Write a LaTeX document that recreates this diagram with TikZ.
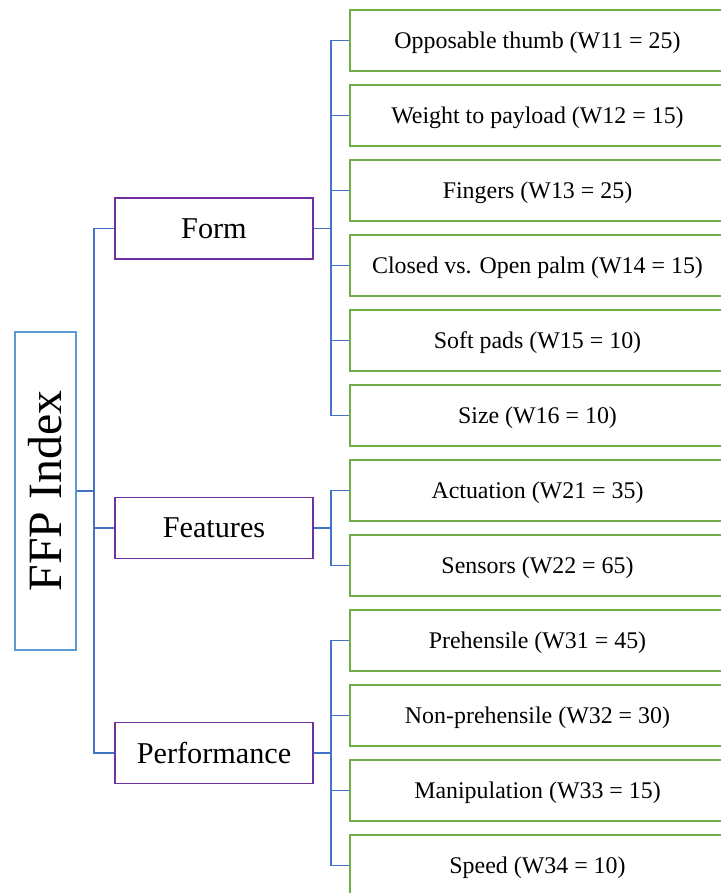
\documentclass[tikz,border=0pt]{standalone}
\usepackage{fontspec}
\setmainfont{Liberation Serif}
\definecolor{linkblue}{HTML}{4472C4}
\definecolor{rootblue}{HTML}{5B9BD5}
\definecolor{catpurple}{HTML}{7030A0}
\definecolor{leafgreen}{HTML}{70AD47}
\begin{document}
\begin{tikzpicture}[x=0.025cm,y=-0.025cm,
  rootbox/.style={draw=rootblue,line width=1pt,rotate=90,minimum width=7.95cm,minimum height=1.525cm,inner sep=0pt,font=\fontsize{34}{40}\selectfont},
  catbox/.style={draw=catpurple,line width=1pt,minimum width=4.95cm,minimum height=1.525cm,inner sep=0pt,font=\fontsize{21.5}{26}\selectfont},
  leafbox/.style={draw=leafgreen,line width=1.2pt,minimum width=9.375cm,minimum height=1.525cm,inner sep=0pt,text depth=0pt,font=\fontsize{17}{20}\selectfont},
  link/.style={draw=linkblue,line width=1.2pt}]
  \useasboundingbox (0,0) rectangle (721,893);
  % Root
  \node[rootbox] (ffp) at (45.5,491) {FFP Index};
  % Categories
  \node[catbox] (form) at (214,228.5) {Form};
  \node[catbox] (feat) at (214,528) {Features};
  \node[catbox] (perf) at (214,753) {Performance};
  % Form leaves
  \node[leafbox] (w11) at (537.5,40.5) {Opposable thumb (W11 = 25)};
  \node[leafbox] (w12) at (537.5,115.5) {Weight to payload (W12 = 15)};
  \node[leafbox] (w13) at (537.5,190.5) {Fingers (W13 = 25)};
  \node[leafbox] (w14) at (537.5,265.5) {Closed vs. Open palm (W14 = 15)};
  \node[leafbox] (w15) at (537.5,340.5) {Soft pads (W15 = 10)};
  \node[leafbox] (w16) at (537.5,415.5) {Size (W16 = 10)};
  % Features leaves
  \node[leafbox] (w21) at (537.5,490.5) {Actuation (W21 = 35)};
  \node[leafbox] (w22) at (537.5,565.5) {Sensors (W22 = 65)};
  % Performance leaves
  \node[leafbox] (w31) at (537.5,640.5) {Prehensile (W31 = 45)};
  \node[leafbox] (w32) at (537.5,715.5) {Non-prehensile (W32 = 30)};
  \node[leafbox] (w33) at (537.5,790.5) {Manipulation (W33 = 15)};
  \node[leafbox] (w34) at (537.5,865.5) {Speed (W34 = 10)};
  % Trunk
  \draw[link] (form.west) -- ++(-20,0) |- (ffp.south);
  \draw[link] (feat.west) -- ++(-20,0) |- (ffp.south);
  \draw[link] (perf.west) -- ++(-20,0) |- (ffp.south);
  % Branches
  \draw[link] (w11.west) -- ++(-18,0) |- (form.east);
  \draw[link] (w12.west) -- ++(-18,0) |- (form.east);
  \draw[link] (w13.west) -- ++(-18,0) |- (form.east);
  \draw[link] (w14.west) -- ++(-18,0) |- (form.east);
  \draw[link] (w15.west) -- ++(-18,0) |- (form.east);
  \draw[link] (w16.west) -- ++(-18,0) |- (form.east);
  \draw[link] (w21.west) -- ++(-18,0) |- (feat.east);
  \draw[link] (w22.west) -- ++(-18,0) |- (feat.east);
  \draw[link] (w31.west) -- ++(-18,0) |- (perf.east);
  \draw[link] (w32.west) -- ++(-18,0) |- (perf.east);
  \draw[link] (w33.west) -- ++(-18,0) |- (perf.east);
  \draw[link] (w34.west) -- ++(-18,0) |- (perf.east);
\end{tikzpicture}
\end{document}
